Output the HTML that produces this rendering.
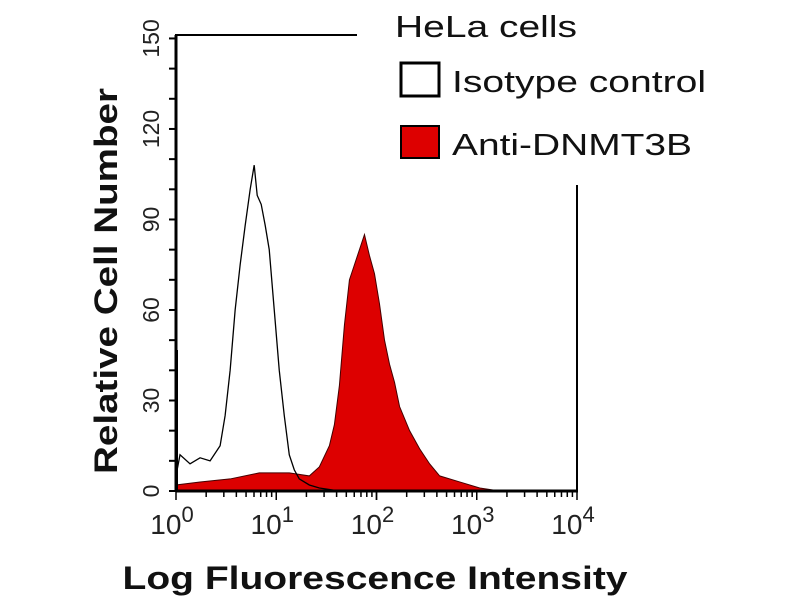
<!DOCTYPE html>
<html><head><meta charset="utf-8"><style>
body{margin:0;background:#fff;width:800px;height:600px;overflow:hidden}
svg{font-family:"Liberation Sans",Arial,sans-serif}
</style></head><body>
<svg id="chart" width="800" height="600"></svg>
<script>
const isoLog=[0,0.04,0.14,0.24,0.34,0.44,0.49,0.54,0.59,0.64,0.69,0.74,0.78,0.81,0.85,0.89,0.93,0.98,1.03,1.08,1.13,1.18,1.23,1.33,1.43,1.63,4];
const isoVal=[5,12,9,11,10,15,25,40,60,75,88,100,108,98,95,88,80,60,40,25,12,7,4,2,1,0,0];
const redLog=[0,0.24,0.54,0.83,1.13,1.33,1.43,1.53,1.58,1.63,1.68,1.73,1.78,1.83,1.88,1.93,1.98,2.03,2.08,2.13,2.18,2.23,2.33,2.43,2.53,2.63,2.83,3.03,3.23,4];
const redVal=[2,3,4,6,6,5,8,15,22,35,55,70,75,80,85,78,72,62,50,42,36,28,20,14,9,5,3,1,0,0];
const yTicks=[0,30,60,90,120,150];
const xTicks=[0,1,2,3,4];
const NS="http://www.w3.org/2000/svg";
const svg=document.getElementById('chart');
const X=l=>176+l*100.25, Y=v=>491-v*3.017;
function el(t,a,p){const e=document.createElementNS(NS,t);for(const k in a)e.setAttribute(k,a[k]);(p||svg).appendChild(e);return e;}
let d='M'+X(0)+','+Y(0);
redLog.forEach((l,i)=>d+=' L'+X(l)+','+Y(redVal[i]));
d+=' L'+X(4)+','+Y(0)+'Z';
const red=el('path',{d:d,fill:'#dd0000',stroke:'#400',"stroke-width":1});


let d2='';
isoLog.forEach((l,i)=>d2+=(i?' L':'M')+X(l)+','+Y(isoVal[i]));
const iso=el('path',{d:d2,fill:'none',stroke:'#000',"stroke-width":1.3});


el('line',{x1:176,y1:35,x2:176,y2:492,stroke:'#000',"stroke-width":3});
el('line',{x1:175,y1:35,x2:357,y2:35,stroke:'#000',"stroke-width":2});
el('line',{x1:176,y1:491,x2:578,y2:491,stroke:'#000',"stroke-width":3});
el('line',{x1:577,y1:185,x2:577,y2:492,stroke:'#000',"stroke-width":2});
el('line',{x1:177,y1:350,x2:177,y2:491,stroke:'#000',"stroke-width":2});
for(let v=0;v<=150;v+=10){el('line',{x1:169,y1:Y(v),x2:176,y2:Y(v),stroke:'#000',"stroke-width":2});}
yTicks.forEach(v=>{const t=el('text',{x:0,y:0,transform:`translate(159,${Y(v)}) rotate(-90)`,"text-anchor":"middle","font-size":23,fill:'#222'});t.textContent=v;
});
for(let dd=0;dd<4;dd++)for(let k=1;k<=10;k++){const x=X(dd+Math.log10(k));el('line',{x1:x,y1:491,x2:x,y2:k==10||k==1?500:497,stroke:'#000',"stroke-width":1.5});}
xTicks.forEach(p=>{const t=el('text',{x:X(p)-4,y:534,"text-anchor":"middle","font-size":28,fill:'#222'});t.textContent='10';
const s=el('tspan',{dy:-12,"font-size":22},t);s.textContent=p;
});
const yt=el('text',{transform:'translate(117,281) rotate(-90)',"text-anchor":"middle","font-size":32,"font-weight":"bold",fill:'#111',textLength:386,lengthAdjust:'spacingAndGlyphs'});yt.textContent='Relative Cell Number';

const xt=el('text',{x:375,y:589,"text-anchor":"middle","font-size":32,"font-weight":"bold",fill:'#111',textLength:505,lengthAdjust:'spacingAndGlyphs'});xt.textContent='Log Fluorescence Intensity';

const lt=el('text',{x:395,y:37,"font-size":31,fill:'#111',textLength:182,lengthAdjust:'spacingAndGlyphs'});lt.textContent='HeLa cells';

const b1=el('rect',{x:401,y:63,width:38,height:33,fill:'#fff',stroke:'#000',"stroke-width":3});

const t1=el('text',{x:452,y:92,"font-size":31,fill:'#111',textLength:254,lengthAdjust:'spacingAndGlyphs'});t1.textContent='Isotype control';

const b2=el('rect',{x:401,y:126,width:38,height:32,fill:'#dd0000',stroke:'#000',"stroke-width":2});

const t2=el('text',{x:452,y:155,"font-size":31,fill:'#111',textLength:240,lengthAdjust:'spacingAndGlyphs'});t2.textContent='Anti-DNMT3B';

</script>
</body></html>
